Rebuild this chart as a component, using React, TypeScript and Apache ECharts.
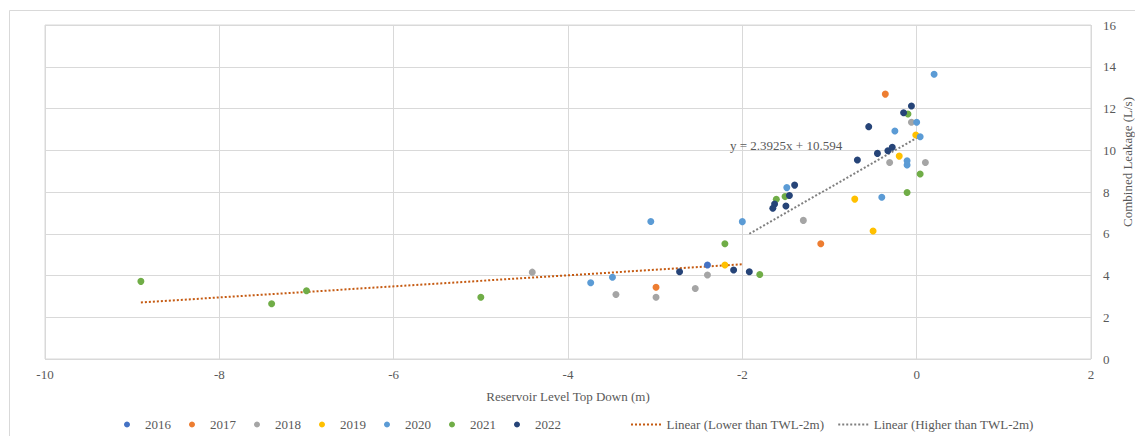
import React, { useEffect, useRef } from "react";
import * as echarts from "echarts";

const years = ["2016", "2017", "2018", "2019", "2020", "2021", "2022"];
const yearColors = ["#4472C4", "#ED7D31", "#A5A5A5", "#FFC000", "#5B9BD5", "#70AD47", "#264478"];

const data2016 = [[-2.4, 4.5]];
const data2017 = [[-0.36, 12.69], [-1.1, 5.52], [-2.99, 3.44]];
const data2018 = [
  [-0.06, 11.34], [-0.31, 9.41], [0.1, 9.41], [-1.3, 6.64], [-2.4, 4.02],
  [-2.54, 3.38], [-3.45, 3.09], [-2.99, 2.96], [-4.41, 4.16],
];
const data2019 = [[-0.01, 10.73], [-0.2, 9.72], [-0.71, 7.66], [-0.5, 6.13], [-2.2, 4.5]];
const data2020 = [
  [0.2, 13.64], [0.0, 11.34], [-0.25, 10.92], [0.04, 10.65], [-0.11, 9.5], [-0.11, 9.29],
  [-0.4, 7.75], [-1.49, 8.21], [-2.0, 6.58], [-3.05, 6.59], [-3.49, 3.92], [-3.74, 3.65],
];
const data2021 = [
  [-0.1, 11.74], [0.04, 8.86], [-0.11, 7.98], [-1.51, 7.78], [-1.61, 7.65], [-2.2, 5.52],
  [-1.8, 4.05], [-5.0, 2.96], [-7.0, 3.27], [-7.4, 2.65], [-8.9, 3.72],
];
const data2022 = [
  [-0.06, 12.12], [-0.15, 11.8], [-0.55, 11.13], [-0.68, 9.53], [-0.45, 9.85], [-0.33, 9.98],
  [-0.28, 10.14], [-1.4, 8.33], [-1.46, 7.83], [-1.63, 7.42], [-1.65, 7.22], [-1.5, 7.33],
  [-2.72, 4.18], [-2.1, 4.26], [-1.92, 4.18],
];
const yearData = [data2016, data2017, data2018, data2019, data2020, data2021, data2022];

const lowerName = "Linear (Lower than TWL-2m)";
const upperName = "Linear (Higher than TWL-2m)";
const lowerTrend = [[-8.9, 2.71], [-2.0, 4.54]];
const upperTrend = [[-1.92, 6.0], [0.07, 10.76]];
const equationText = "y = 2.3925x + 10.594";
const xTitle = "Reservoir Level Top Down (m)";
const yTitle = "Combined Leakage (L/s)";

const FONT = "'Liberation Serif', 'Times New Roman', serif";
const TXT = "#595959";
const GRID = "#d9d9d9";

// dotted legend icon (styling only): small squares along a 31px strip
let dotPath = "path://";
for (let i = 0; i < 8; i++) {
  const x = i * 4;
  dotPath += `M${x},0h2v2h-2z`;
}

export default function App() {
  const ref = useRef<HTMLDivElement>(null);
  useEffect(() => {
    if (!ref.current) return;
    const chart = echarts.init(ref.current, undefined, { renderer: "svg" });
    const scatterSeries = years.map((y, i) => ({
      name: y,
      type: "scatter",
      data: yearData[i],
      symbol: "circle",
      symbolSize: 7,
      itemStyle: { color: yearColors[i], opacity: 1 },
      z: 3,
    }));
    chart.setOption({
      animation: false,
      textStyle: { fontFamily: FONT },
      grid: { left: 45, right: 44, top: 25, bottom: 77, show: true, borderColor: GRID, borderWidth: 1 },
      xAxis: {
        type: "value",
        min: -10,
        max: 2,
        interval: 2,
        name: xTitle,
        nameLocation: "middle",
        nameGap: 31,
        nameTextStyle: { color: TXT, fontSize: 13, fontFamily: FONT },
        axisLine: { show: false },
        axisTick: { show: false },
        axisLabel: { color: TXT, fontSize: 13, fontFamily: FONT, margin: 9 },
        splitLine: { lineStyle: { color: GRID, width: 1 } },
      },
      yAxis: {
        type: "value",
        position: "right",
        min: 0,
        max: 16,
        interval: 2,
        axisLine: { show: false },
        axisTick: { show: false },
        axisLabel: { color: TXT, fontSize: 13, fontFamily: FONT, margin: 12, align: "left" },
        splitLine: { lineStyle: { color: GRID, width: 1 } },
      },
      legend: [
        {
          data: years.map((y) => ({ name: y, icon: "circle" })),
          left: 119,
          top: 413,
          itemWidth: 26,
          itemHeight: 6,
          itemGap: 18,
          textStyle: { color: TXT, fontSize: 13, fontFamily: FONT },
        },
        {
          data: [
            { name: lowerName, icon: dotPath },
            { name: upperName, icon: dotPath },
          ],
          left: 626,
          top: 413,
          itemWidth: 31,
          itemHeight: 2,
          itemGap: 14,
          textStyle: { color: TXT, fontSize: 13, fontFamily: FONT },
        },
      ],
      graphic: [
        { type: "line", shape: { x1: 9.5, y1: 10.5, x2: 9.5, y2: 436 }, style: { stroke: GRID, lineWidth: 1 }, silent: true },
        { type: "line", shape: { x1: 9.5, y1: 10.5, x2: 1135, y2: 10.5 }, style: { stroke: GRID, lineWidth: 1 }, silent: true },
        {
          type: "text",
          x: 730,
          y: 145,
          style: { text: equationText, fill: TXT, font: `13px ${FONT}`, verticalAlign: "middle", align: "left" },
          z: 10,
        },
        {
          type: "text",
          x: 1127,
          y: 162,
          rotation: Math.PI / 2,
          style: { text: yTitle, fill: TXT, font: `13px ${FONT}`, verticalAlign: "middle", align: "center" },
        },
      ],
      series: [
        ...scatterSeries,
        {
          name: lowerName,
          type: "line",
          data: lowerTrend,
          symbol: "none",
          lineStyle: { color: "#C55A11", width: 2, type: [2, 2] },
          itemStyle: { color: "#C55A11" },
          z: 2,
        },
        {
          name: upperName,
          type: "line",
          data: upperTrend,
          symbol: "none",
          lineStyle: { color: "#7F7F7F", width: 2, type: [2, 2] },
          itemStyle: { color: "#7F7F7F" },
          z: 2,
        },
      ],
    });
    return () => chart.dispose();
  }, []);
  return (
    <div
      ref={ref}
      style={{ position: "fixed", left: 0, top: 0, width: 1135, height: 436, background: "#fff" }}
    />
  );
}
